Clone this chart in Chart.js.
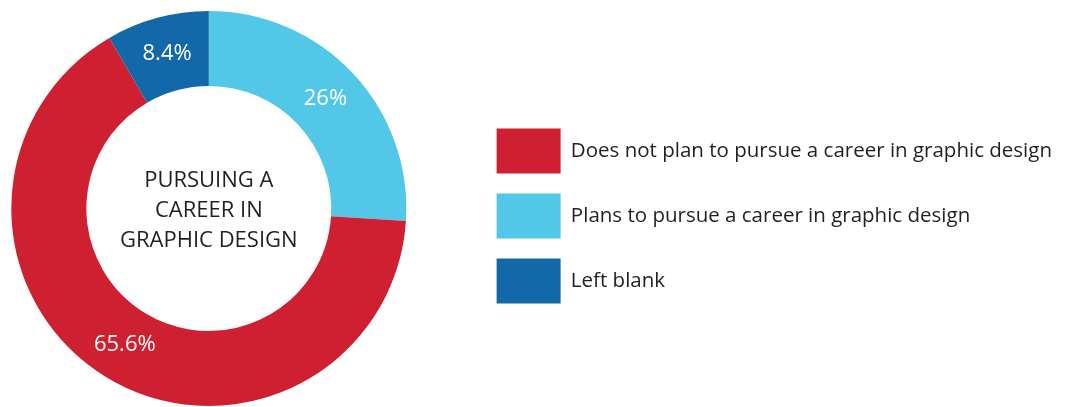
<!DOCTYPE html>
<html>
<head>
<meta charset="utf-8">
<script src="https://cdn.jsdelivr.net/npm/chart.js@4"></script>
<style>
  html, body { margin: 0; padding: 0; background: #fff; }
  #wrap { width: 1072px; height: 407px; }
</style>
</head>
<body>
<div id="wrap"><canvas id="chartContainer"></canvas></div>
<script>
// slices in drawing order, clockwise from 12 o'clock
const labels = ['Plans to pursue a career in graphic design', 'Does not plan to pursue a career in graphic design', 'Left blank'];
const values = [26, 65.6, 8.4];
const valueText = ['26%', '65.6%', '8.4%'];
const colors = ['#52C7E8', '#CE2030', '#1268A8'];
// legend reads in a different order
const legendOrder = ['Does not plan to pursue a career in graphic design', 'Plans to pursue a career in graphic design', 'Left blank'];
const centerLines = ['PURSUING A', 'CAREER IN', 'GRAPHIC DESIGN'];

const rightPad = 80;
const legendGap = 70;

// push the legend right so the ring keeps its own space on the left
const legendShift = {
	id: 'legendShift',
	afterLayout(chart) {
		chart.legend.left += legendGap;
		chart.legend.right += legendGap;
	}
};

const sliceLabels = {
	id: 'sliceLabels',
	afterDatasetsDraw(chart) {
		const ctx = chart.ctx;
		const arcs = chart.getDatasetMeta(0).data;
		ctx.save();
		ctx.fillStyle = '#ffffff';
		ctx.font = '22px "Open Sans"';
		ctx.textAlign = 'center';
		ctx.textBaseline = 'middle';
		arcs.forEach((arc, i) => {
			const p = arc.tooltipPosition();
			ctx.fillText(valueText[i], p.x, p.y);
		});
		// title in the hole
		const cx = arcs[0].x, cy = arcs[0].y;
		ctx.fillStyle = '#231F20';
		ctx.font = '22px "Open Sans"';
		centerLines.forEach((line, i) => {
			ctx.fillText(line, cx, cy + (i - 1) * 30 + 2);
		});
		ctx.restore();
	}
};

const ctx = document.getElementById('chartContainer').getContext('2d');
const chart = new Chart(ctx, {
	type: 'doughnut',
	data: {
		labels: labels,
		datasets: [{
			data: values,
			backgroundColor: colors,
			borderWidth: 0
		}]
	},
	options: {
		responsive: true,
		maintainAspectRatio: false,
		animation: false,
		events: [],
		cutout: '62%',
		layout: {
			padding: { left: 11, right: rightPad, top: 11, bottom: 1 }
		},
		plugins: {
			tooltip: { enabled: false },
			legend: {
				position: 'right',
				align: 'center',
				maxWidth: 1000,
				title: {
					display: true,
					text: '',
					padding: 0,
					font: { size: 15, lineHeight: 1 }
				},
				labels: {
					boxWidth: 64,
					boxHeight: 45,
					padding: 20,
					color: '#231F20',
					font: { family: '"Open Sans"', size: 20.5 },
					sort: (a, b) => legendOrder.indexOf(a.text) - legendOrder.indexOf(b.text)
				}
			}
		}
	},
	plugins: [legendShift, sliceLabels]
});
</script>
</body>
</html>
